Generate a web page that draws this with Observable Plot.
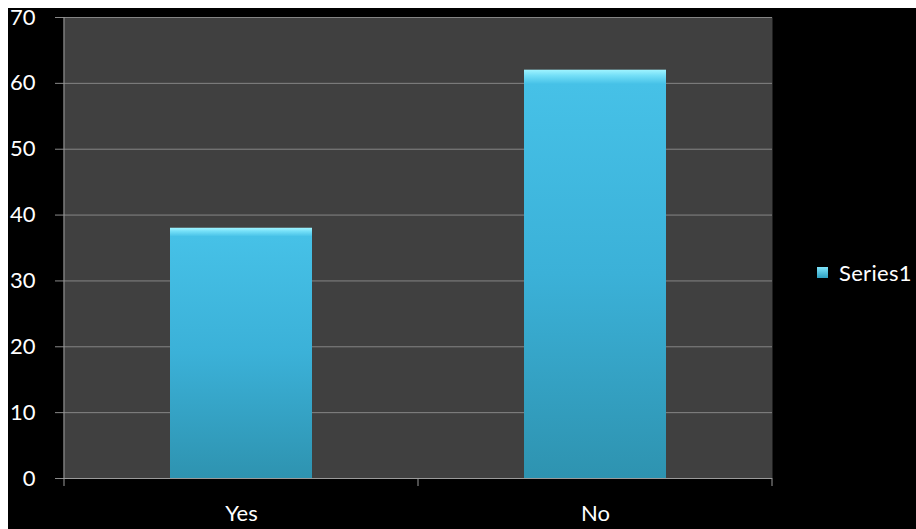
<!DOCTYPE html>
<html><head><meta charset="utf-8">
<script src="https://cdn.jsdelivr.net/npm/d3@7"></script>
<script src="https://cdn.jsdelivr.net/npm/@observablehq/plot@0.6"></script>
<style>
body{margin:8px 0 0 8px;background:#fff;overflow:hidden}
#wrap{position:relative;width:908px;height:521px;background:#000}
#legend{position:absolute;left:809px;top:251px;color:#fff;font:22px Lato, sans-serif;display:flex;align-items:center;white-space:nowrap;letter-spacing:0.3px}
.sw{display:inline-block;width:11px;height:11px;background:linear-gradient(#7fe4fa,#2c9fc0);margin-right:11px}
</style></head><body><div id="wrap"><div id="legend"><span class="sw"></span><span id="lt"></span></div></div>
<script>
const categories = ["Yes", "No"];
const values = [38, 62];
const yTicks = [0, 10, 20, 30, 40, 50, 60, 70];
const seriesName = "Series1";

const data = categories.map((c, i) => ({category: c, value: values[i]}));
document.getElementById("lt").textContent = seriesName;

const plot = Plot.plot({
  width: 908, height: 521,
  marginLeft: 55, marginRight: 144, marginTop: 9, marginBottom: 51,
  style: {background: "#000", color: "#fff", fontFamily: "Lato, sans-serif", fontSize: "22px", overflow: "visible"},
  x: {domain: categories, paddingInner: 0.6, paddingOuter: 0.3, label: null},
  y: {domain: [0, 70], label: null},
  marks: [
    Plot.frame({fill: "#404040", stroke: null}),
    Plot.gridY(yTicks, {stroke: "#858585", strokeOpacity: 1}),
    Plot.barY(data, {x: "category", y: "value", fill: "url(#barGrad)"}),
    Plot.axisY(yTicks, {tickSize: 8, tickPadding: 20, stroke: "#8a8a8a", fill: "#fff", fontSize: 22}),
    Plot.axisX({tickSize: 0, tickPadding: 27, fill: "#fff", fontSize: 22}),
    Plot.ruleY([0], {stroke: "#9a9a9a"})
  ]
});
document.getElementById("wrap").appendChild(plot);

const svg = d3.select(plot);
const defs = svg.insert("defs", ":first-child");
const g = defs.append("linearGradient").attr("id", "barGrad").attr("x1", 0).attr("y1", 0).attr("x2", 0).attr("y2", 1);
[[0, "#a0f4ff"], [0.015, "#72def7"], [0.035, "#46c1e7"], [0.5, "#3bb1d8"], [1, "#2e93b0"]]
  .forEach(([o, c]) => g.append("stop").attr("offset", o).attr("stop-color", c));

// left axis line and category boundary ticks, from the plot's own scales
const xs = plot.scale("x"), ys = plot.scale("y");
const y0 = ys.apply(0), y1 = ys.apply(70);
const step = xs.step;
const firstCenter = xs.apply(categories[0]) + xs.bandwidth / 2;
const bounds = [firstCenter - step / 2, ...categories.map((c) => xs.apply(c) + xs.bandwidth / 2 + step / 2)];
const ax = svg.append("g").attr("stroke", "#9a9a9a");
ax.append("line").attr("x1", bounds[0]).attr("x2", bounds[0]).attr("y1", y1).attr("y2", y0);
bounds.forEach((b) => ax.append("line").attr("x1", b).attr("x2", b).attr("y1", y0).attr("y2", y0 + 8));
</script></body></html>
